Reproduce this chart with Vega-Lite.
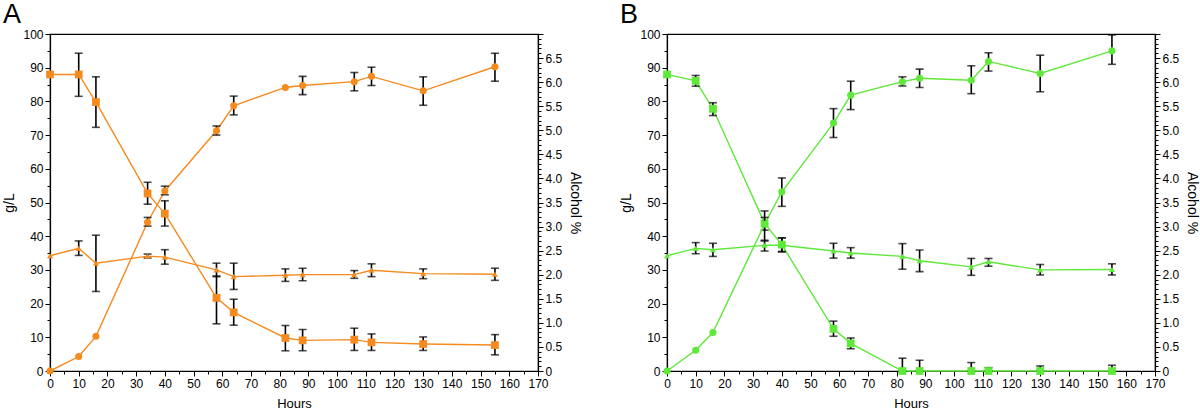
{
  "$schema": "https://vega.github.io/schema/vega-lite/v6.json",
  "background": "white",
  "padding": {"left": 2, "top": 0, "right": 0, "bottom": 0},
  "spacing": 36,
  "config": {
    "font": "Liberation Sans",
    "view": {"stroke": "black", "strokeWidth": 1.2},
    "axis": {"domainColor": "black", "tickColor": "black", "labelColor": "black", "titleColor": "black", "labelFont": "Liberation Sans", "titleFont": "Liberation Sans", "labelFontSize": 12, "titleFontSize": 13, "titleFontWeight": "normal", "grid": false, "labelFlush": false, "labelOverlap": false, "domainWidth": 1.2, "tickWidth": 1},
    "title": {"font": "Liberation Sans", "fontSize": 27, "fontWeight": "normal", "color": "black", "anchor": "start", "frame": "bounds", "offset": -1}
  },
  "datasets": {
    "d": [
      {"p": "A", "s": "sugar", "h": 0, "v": 88, "lo": null, "hi": null},
      {"p": "A", "s": "sugar", "h": 10, "v": 88, "lo": 81.5, "hi": 94.3},
      {"p": "A", "s": "sugar", "h": 16, "v": 79.8, "lo": 72.3, "hi": 87.3},
      {"p": "A", "s": "sugar", "h": 34, "v": 52.7, "lo": 49.5, "hi": 56},
      {"p": "A", "s": "sugar", "h": 40, "v": 46.7, "lo": 43, "hi": 50.5},
      {"p": "A", "s": "sugar", "h": 58, "v": 21.7, "lo": 14, "hi": 28.2},
      {"p": "A", "s": "sugar", "h": 64, "v": 17.4, "lo": 13.6, "hi": 21.3},
      {"p": "A", "s": "sugar", "h": 82, "v": 9.8, "lo": 6, "hi": 13.5},
      {"p": "A", "s": "sugar", "h": 88, "v": 9.1, "lo": 6, "hi": 12.3},
      {"p": "A", "s": "sugar", "h": 106, "v": 9.3, "lo": 6.1, "hi": 12.7},
      {"p": "A", "s": "sugar", "h": 112, "v": 8.5, "lo": 6.1, "hi": 11},
      {"p": "A", "s": "sugar", "h": 130, "v": 8.0, "lo": 6.1, "hi": 10.1},
      {"p": "A", "s": "sugar", "h": 155, "v": 7.7, "lo": 4.8, "hi": 10.8},
      {"p": "A", "s": "other", "h": 0, "v": 34.2, "lo": null, "hi": null},
      {"p": "A", "s": "other", "h": 10, "v": 36.4, "lo": 34.3, "hi": 38.6},
      {"p": "A", "s": "other", "h": 16, "v": 32, "lo": 23.6, "hi": 40.3},
      {"p": "A", "s": "other", "h": 34, "v": 34.1, "lo": 33.5, "hi": 34.7},
      {"p": "A", "s": "other", "h": 40, "v": 33.8, "lo": 31.7, "hi": 36},
      {"p": "A", "s": "other", "h": 58, "v": 30, "lo": 28, "hi": 32},
      {"p": "A", "s": "other", "h": 64, "v": 28, "lo": 24.2, "hi": 32},
      {"p": "A", "s": "other", "h": 82, "v": 28.4, "lo": 26.6, "hi": 30.3},
      {"p": "A", "s": "other", "h": 88, "v": 28.6, "lo": 26.8, "hi": 30.5},
      {"p": "A", "s": "other", "h": 106, "v": 28.6, "lo": 27.5, "hi": 29.8},
      {"p": "A", "s": "other", "h": 112, "v": 29.9, "lo": 28, "hi": 31.8},
      {"p": "A", "s": "other", "h": 130, "v": 28.9, "lo": 27.4, "hi": 30.3},
      {"p": "A", "s": "other", "h": 155, "v": 28.7, "lo": 26.9, "hi": 30.5},
      {"p": "A", "s": "alcohol", "h": 0, "v": 0, "lo": null, "hi": null},
      {"p": "A", "s": "alcohol", "h": 10, "v": 0.3, "lo": null, "hi": null},
      {"p": "A", "s": "alcohol", "h": 16, "v": 0.72, "lo": null, "hi": null},
      {"p": "A", "s": "alcohol", "h": 34, "v": 3.09, "lo": 3.01, "hi": 3.19},
      {"p": "A", "s": "alcohol", "h": 40, "v": 3.74, "lo": 3.66, "hi": 3.84},
      {"p": "A", "s": "alcohol", "h": 58, "v": 4.99, "lo": 4.9, "hi": 5.09},
      {"p": "A", "s": "alcohol", "h": 64, "v": 5.51, "lo": 5.32, "hi": 5.71},
      {"p": "A", "s": "alcohol", "h": 82, "v": 5.89, "lo": null, "hi": null},
      {"p": "A", "s": "alcohol", "h": 88, "v": 5.93, "lo": 5.74, "hi": 6.12},
      {"p": "A", "s": "alcohol", "h": 106, "v": 6.01, "lo": 5.82, "hi": 6.2},
      {"p": "A", "s": "alcohol", "h": 112, "v": 6.12, "lo": 5.93, "hi": 6.31},
      {"p": "A", "s": "alcohol", "h": 130, "v": 5.82, "lo": 5.52, "hi": 6.11},
      {"p": "A", "s": "alcohol", "h": 155, "v": 6.32, "lo": 6.02, "hi": 6.6},
      {"p": "B", "s": "sugar", "h": 0, "v": 88, "lo": null, "hi": null},
      {"p": "B", "s": "sugar", "h": 10, "v": 86.1, "lo": 84.5, "hi": 87.7},
      {"p": "B", "s": "sugar", "h": 16, "v": 77.8, "lo": 75.8, "hi": 79.6},
      {"p": "B", "s": "sugar", "h": 34, "v": 43.8, "lo": 41.8, "hi": 47.5},
      {"p": "B", "s": "sugar", "h": 40, "v": 37.5, "lo": 35.5, "hi": 39.5},
      {"p": "B", "s": "sugar", "h": 58, "v": 12.5, "lo": 10.3, "hi": 14.8},
      {"p": "B", "s": "sugar", "h": 64, "v": 8.2, "lo": 6.6, "hi": 9.8},
      {"p": "B", "s": "sugar", "h": 82, "v": 0, "lo": 0, "hi": 3.8},
      {"p": "B", "s": "sugar", "h": 88, "v": 0, "lo": 0, "hi": 3.2},
      {"p": "B", "s": "sugar", "h": 106, "v": 0, "lo": 0, "hi": 2.5},
      {"p": "B", "s": "sugar", "h": 112, "v": 0, "lo": 0, "hi": 1.0},
      {"p": "B", "s": "sugar", "h": 130, "v": 0, "lo": 0, "hi": 1.5},
      {"p": "B", "s": "sugar", "h": 155, "v": 0, "lo": 0, "hi": 1.7},
      {"p": "B", "s": "other", "h": 0, "v": 34.2, "lo": null, "hi": null},
      {"p": "B", "s": "other", "h": 10, "v": 36.4, "lo": 34.8, "hi": 38.1},
      {"p": "B", "s": "other", "h": 16, "v": 36, "lo": 34, "hi": 37.9},
      {"p": "B", "s": "other", "h": 34, "v": 37.3, "lo": 35.6, "hi": 38.8},
      {"p": "B", "s": "other", "h": 40, "v": 37.3, "lo": 35.3, "hi": 39.5},
      {"p": "B", "s": "other", "h": 58, "v": 35.6, "lo": 33.5, "hi": 37.9},
      {"p": "B", "s": "other", "h": 64, "v": 35, "lo": 33.5, "hi": 36.6},
      {"p": "B", "s": "other", "h": 82, "v": 34, "lo": 30.2, "hi": 37.8},
      {"p": "B", "s": "other", "h": 88, "v": 32.7, "lo": 29.5, "hi": 35.9},
      {"p": "B", "s": "other", "h": 106, "v": 30.9, "lo": 28.4, "hi": 33.4},
      {"p": "B", "s": "other", "h": 112, "v": 32.4, "lo": 31.1, "hi": 33.4},
      {"p": "B", "s": "other", "h": 130, "v": 30, "lo": 28.5, "hi": 31.6},
      {"p": "B", "s": "other", "h": 155, "v": 30.1, "lo": 28.5, "hi": 31.8},
      {"p": "B", "s": "alcohol", "h": 0, "v": 0, "lo": null, "hi": null},
      {"p": "B", "s": "alcohol", "h": 10, "v": 0.43, "lo": null, "hi": null},
      {"p": "B", "s": "alcohol", "h": 16, "v": 0.8, "lo": null, "hi": null},
      {"p": "B", "s": "alcohol", "h": 34, "v": 3.05, "lo": 2.7, "hi": 3.19},
      {"p": "B", "s": "alcohol", "h": 40, "v": 3.72, "lo": 3.42, "hi": 4.01},
      {"p": "B", "s": "alcohol", "h": 58, "v": 5.15, "lo": 4.85, "hi": 5.45},
      {"p": "B", "s": "alcohol", "h": 64, "v": 5.73, "lo": 5.43, "hi": 6.02},
      {"p": "B", "s": "alcohol", "h": 82, "v": 6.01, "lo": 5.92, "hi": 6.11},
      {"p": "B", "s": "alcohol", "h": 88, "v": 6.08, "lo": 5.89, "hi": 6.27},
      {"p": "B", "s": "alcohol", "h": 106, "v": 6.04, "lo": 5.76, "hi": 6.34},
      {"p": "B", "s": "alcohol", "h": 112, "v": 6.43, "lo": 6.23, "hi": 6.61},
      {"p": "B", "s": "alcohol", "h": 130, "v": 6.18, "lo": 5.8, "hi": 6.56},
      {"p": "B", "s": "alcohol", "h": 155, "v": 6.65, "lo": 6.37, "hi": 6.98}
    ]
  },
  "hconcat": [
    {
      "title": {"text": "A"},
      "width": 488, "height": 337,
      "data": {"name": "d"},
      "transform": [{"filter": "datum.p == 'A'"}],
      "encoding": {
        "x": {"field": "h", "type": "quantitative", "scale": {"domain": [0, 170], "nice": false}, "axis": {"title": "Hours", "values": [0,5,10,15,20,25,30,35,40,45,50,55,60,65,70,75,80,85,90,95,100,105,110,115,120,125,130,135,140,145,150,155,160,165,170], "labelExpr": "datum.value % 10 == 0 ? datum.label : ''", "tickSize": {"condition": {"test": "datum.value % 10 != 0", "value": 3}, "value": 5}, "titlePadding": 8}}
      },
      "layer": [
        {
          "transform": [{"filter": "datum.s != 'alcohol'"}],
          "encoding": {
            "y": {"field": "v", "type": "quantitative", "scale": {"domain": [0, 100], "nice": false}, "axis": {"title": "g/L", "values": [0,5,10,15,20,25,30,35,40,45,50,55,60,65,70,75,80,85,90,95,100], "labelExpr": "datum.value % 10 == 0 ? datum.label : ''", "tickSize": {"condition": {"test": "datum.value % 10 != 0", "value": 3}, "value": 5}, "titlePadding": 6, "titleFontSize": 14}}
          },
          "layer": [
            {"mark": {"type": "line", "color": "#F58A1F", "strokeWidth": 1.4},
             "encoding": {"detail": {"field": "s"}}},
            {"transform": [{"filter": "isValid(datum.lo)"}],
             "mark": {"type": "errorbar", "color": "black", "ticks": {"size": 8, "thickness": 1.6, "color": "black"}, "rule": {"strokeWidth": 1.6, "color": "black"}},
             "encoding": {
               "y": {"field": "lo", "type": "quantitative", "scale": {"domain": [0, 100], "nice": false}, "axis": {"title": "g/L", "values": [0,5,10,15,20,25,30,35,40,45,50,55,60,65,70,75,80,85,90,95,100], "labelExpr": "datum.value % 10 == 0 ? datum.label : ''", "tickSize": {"condition": {"test": "datum.value % 10 != 0", "value": 3}, "value": 5}, "titlePadding": 6, "titleFontSize": 14}},
               "y2": {"field": "hi"}
             }},
            {"mark": {"type": "point", "filled": true, "opacity": 1, "color": "#F58A1F"},
             "encoding": {
               "shape": {"field": "s", "scale": {"domain": ["sugar", "other"], "range": ["square", "triangle-up"]}, "legend": null},
               "size": {"field": "s", "scale": {"domain": ["sugar", "other"], "range": [60, 35]}, "legend": null}
             }}
          ]
        },
        {
          "transform": [{"filter": "datum.s == 'alcohol'"}],
          "encoding": {
            "y": {"field": "v", "type": "quantitative", "scale": {"domain": [0, 7], "nice": false}, "axis": {"orient": "right", "title": "Alcohol %", "tickCount": 70, "labelExpr": "datum.value == 0 ? '0' : ((round(datum.value*10) % 5 == 0 && datum.value < 6.95) ? format(datum.value, '.1f') : '')", "tickSize": {"condition": {"test": "round(datum.value*10) % 5 != 0", "value": 3}, "value": 5}, "titlePadding": 6, "titleFontSize": 14}}
          },
          "layer": [
            {"mark": {"type": "line", "color": "#F58A1F", "strokeWidth": 1.4}},
            {"transform": [{"filter": "isValid(datum.lo)"}],
             "mark": {"type": "errorbar", "color": "black", "ticks": {"size": 8, "thickness": 1.6, "color": "black"}, "rule": {"strokeWidth": 1.6, "color": "black"}},
             "encoding": {
               "y": {"field": "lo", "type": "quantitative", "scale": {"domain": [0, 7], "nice": false}, "axis": {"orient": "right", "title": "Alcohol %", "tickCount": 70, "labelExpr": "datum.value == 0 ? '0' : ((round(datum.value*10) % 5 == 0 && datum.value < 6.95) ? format(datum.value, '.1f') : '')", "tickSize": {"condition": {"test": "round(datum.value*10) % 5 != 0", "value": 3}, "value": 5}, "titlePadding": 6, "titleFontSize": 14}},
               "y2": {"field": "hi"}
             }},
            {"mark": {"type": "circle", "opacity": 1, "color": "#F58A1F", "size": 50}}
          ]
        }
      ],
      "resolve": {"scale": {"y": "independent"}}
    },
    {
      "title": {"text": "B"},
      "width": 488, "height": 337,
      "data": {"name": "d"},
      "transform": [{"filter": "datum.p == 'B'"}],
      "encoding": {
        "x": {"field": "h", "type": "quantitative", "scale": {"domain": [0, 170], "nice": false}, "axis": {"title": "Hours", "values": [0,5,10,15,20,25,30,35,40,45,50,55,60,65,70,75,80,85,90,95,100,105,110,115,120,125,130,135,140,145,150,155,160,165,170], "labelExpr": "datum.value % 10 == 0 ? datum.label : ''", "tickSize": {"condition": {"test": "datum.value % 10 != 0", "value": 3}, "value": 5}, "titlePadding": 8}}
      },
      "layer": [
        {
          "transform": [{"filter": "datum.s != 'alcohol'"}],
          "encoding": {
            "y": {"field": "v", "type": "quantitative", "scale": {"domain": [0, 100], "nice": false}, "axis": {"title": "g/L", "values": [0,5,10,15,20,25,30,35,40,45,50,55,60,65,70,75,80,85,90,95,100], "labelExpr": "datum.value % 10 == 0 ? datum.label : ''", "tickSize": {"condition": {"test": "datum.value % 10 != 0", "value": 3}, "value": 5}, "titlePadding": 6, "titleFontSize": 14}}
          },
          "layer": [
            {"mark": {"type": "line", "color": "#5EE83A", "strokeWidth": 1.4},
             "encoding": {"detail": {"field": "s"}}},
            {"transform": [{"filter": "isValid(datum.lo)"}],
             "mark": {"type": "errorbar", "color": "black", "ticks": {"size": 8, "thickness": 1.6, "color": "black"}, "rule": {"strokeWidth": 1.6, "color": "black"}},
             "encoding": {
               "y": {"field": "lo", "type": "quantitative", "scale": {"domain": [0, 100], "nice": false}, "axis": {"title": "g/L", "values": [0,5,10,15,20,25,30,35,40,45,50,55,60,65,70,75,80,85,90,95,100], "labelExpr": "datum.value % 10 == 0 ? datum.label : ''", "tickSize": {"condition": {"test": "datum.value % 10 != 0", "value": 3}, "value": 5}, "titlePadding": 6, "titleFontSize": 14}},
               "y2": {"field": "hi"}
             }},
            {"mark": {"type": "point", "filled": true, "opacity": 1, "color": "#5EE83A"},
             "encoding": {
               "shape": {"field": "s", "scale": {"domain": ["sugar", "other"], "range": ["square", "triangle-up"]}, "legend": null},
               "size": {"field": "s", "scale": {"domain": ["sugar", "other"], "range": [60, 35]}, "legend": null}
             }}
          ]
        },
        {
          "transform": [{"filter": "datum.s == 'alcohol'"}],
          "encoding": {
            "y": {"field": "v", "type": "quantitative", "scale": {"domain": [0, 7], "nice": false}, "axis": {"orient": "right", "title": "Alcohol %", "tickCount": 70, "labelExpr": "datum.value == 0 ? '0' : ((round(datum.value*10) % 5 == 0 && datum.value < 6.95) ? format(datum.value, '.1f') : '')", "tickSize": {"condition": {"test": "round(datum.value*10) % 5 != 0", "value": 3}, "value": 5}, "titlePadding": 6, "titleFontSize": 14}}
          },
          "layer": [
            {"mark": {"type": "line", "color": "#5EE83A", "strokeWidth": 1.4}},
            {"transform": [{"filter": "isValid(datum.lo)"}],
             "mark": {"type": "errorbar", "color": "black", "ticks": {"size": 8, "thickness": 1.6, "color": "black"}, "rule": {"strokeWidth": 1.6, "color": "black"}},
             "encoding": {
               "y": {"field": "lo", "type": "quantitative", "scale": {"domain": [0, 7], "nice": false}, "axis": {"orient": "right", "title": "Alcohol %", "tickCount": 70, "labelExpr": "datum.value == 0 ? '0' : ((round(datum.value*10) % 5 == 0 && datum.value < 6.95) ? format(datum.value, '.1f') : '')", "tickSize": {"condition": {"test": "round(datum.value*10) % 5 != 0", "value": 3}, "value": 5}, "titlePadding": 6, "titleFontSize": 14}},
               "y2": {"field": "hi"}
             }},
            {"mark": {"type": "circle", "opacity": 1, "color": "#5EE83A", "size": 50}}
          ]
        }
      ],
      "resolve": {"scale": {"y": "independent"}}
    }
  ]
}
